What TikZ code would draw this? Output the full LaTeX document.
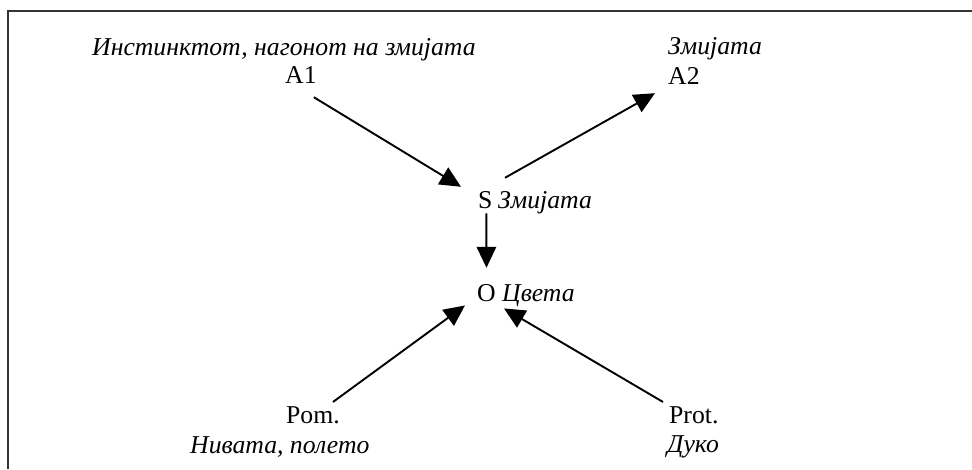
\documentclass[tikz,border=0pt]{standalone}
\usepackage{fontspec}
\setmainfont{Liberation Serif}
\usetikzlibrary{arrows.meta}
\begin{document}
\begin{tikzpicture}[x=1pt,y=-1pt,
  lbl/.style={anchor=base west,inner sep=0pt,font=\fontsize{25.7}{30}\selectfont},
  ilbl/.style={lbl,font=\fontsize{25.7}{30}\selectfont\itshape},
  conn/.style={line width=1.9pt,-{Triangle[length=21pt,width=19.5pt]}},
  frameline/.style={line width=2pt,black!80}]
\useasboundingbox (0,0) rectangle (972,469);
% frame
\coordinate (fbl) at (8,469);
\coordinate (ftl) at (8,11);
\coordinate (ftr) at (972,11);
\draw[frameline] (fbl) -- (ftl) -- (ftr);
% labels
\node[ilbl] (t1) at (92,55) {Инстинктот, нагонот на змијата};
\node[lbl] (a1) at (285,83) {A1};
\node[ilbl] (t2) at (668,54) {Змијата};
\node[lbl] (a2) at (668,84) {A2};
\node[lbl] (s) at (478,208) {S};
\node[ilbl] (sn) at (498,208) {Змијата};
\node[lbl] (o) at (477,301) {O};
\node[ilbl] (on) at (502,301) {Цвета};
\node[lbl] (pom) at (286,423) {Pom.};
\node[ilbl] (pomn) at (190,453) {Нивата, полето};
\node[lbl] (prot) at (669,423) {Prot.};
\node[ilbl] (protn) at (667,452) {Дуко};
% connectors
\draw[conn] ([shift={(-3,14)}]a1.south east) -- ([shift={(-17,-4)}]s.north west);
\draw[conn] ([shift={(7,-13)}]sn.north west) -- ([shift={(-13,9)}]a2.south west);
\draw[conn] ([shift={(1,5)}]s.south) -- ([shift={(0,-16)}]o.north);
\draw[conn] ([shift={(-7,-4)}]pom.north east) -- ([shift={(-12,4)}]o.south west);
\draw[conn] ([shift={(-6,-4)}]prot.north west) -- ([shift={(8,7)}]o.south east);
\end{tikzpicture}
\end{document}
